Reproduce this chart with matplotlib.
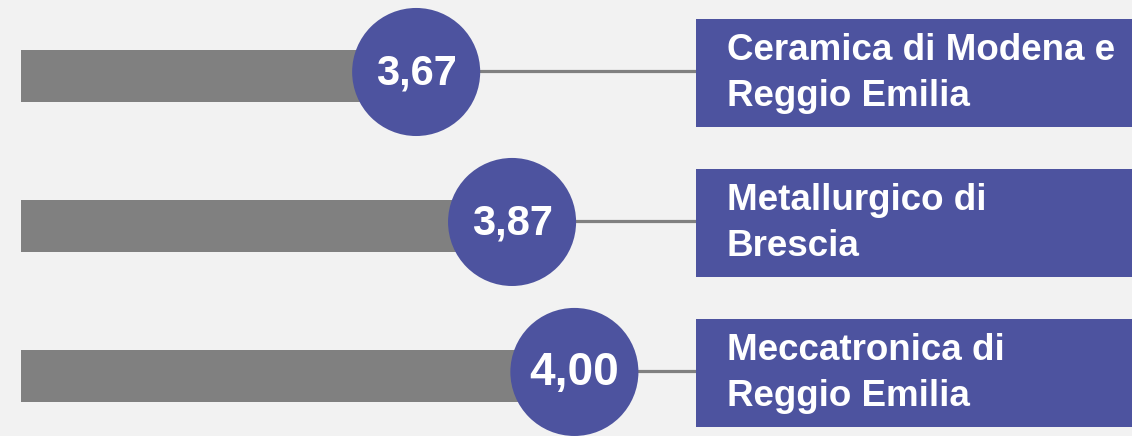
import matplotlib
matplotlib.use("Agg")
import matplotlib.pyplot as plt
from matplotlib.patches import Rectangle

# Data
districts = ["Ceramica di Modena e\nReggio Emilia",
             "Metallurgico di\nBrescia",
             "Meccatronica di\nReggio Emilia"]
scores = [3.67, 3.87, 4.00]
score_labels = ["3,67", "3,87", "4,00"]

# Style
BG = "#f2f2f2"
GREY = "#808080"
PURPLE = "#4d539f"
FONT = ["Liberation Sans", "DejaVu Sans"]

plt.rcParams["font.family"] = FONT

fig = plt.figure(figsize=(11.32, 4.36), dpi=100, facecolor=BG)
ax = fig.add_axes([0, 0, 1, 1], facecolor=BG)

X_MIN, X_MAX = 2.802, 5.163
BAR_START = 2.846
ax.set_xlim(X_MIN, X_MAX)
ax.set_ylim(2.427, -0.48)
ax.axis("off")

box_left_frac = 0.6148
box_left = X_MIN + box_left_frac * (X_MAX - X_MIN)
text_left_frac = 0.642

rows = list(range(len(scores)))
value_sizes = [30, 30, 33]

# grey bars ending under the score bubbles
ax.barh([r + 0.027 for r in rows], [s - BAR_START for s in scores],
        left=BAR_START, height=0.35, color=GREY, zorder=1)

# connector lines from bubble to label box
for r, s in zip(rows, scores):
    ax.plot([s, box_left], [r - 0.005, r - 0.005], color=GREY, lw=2.3,
            solid_capstyle="butt", zorder=1)

# score bubbles
ax.scatter(scores, rows, s=92.2 ** 2, color=PURPLE, edgecolors="none",
           zorder=3)
for r, s, lab, fs in zip(rows, scores, score_labels, value_sizes):
    ax.text(s, r + 0.01, lab, ha="center", va="center", color="white",
            fontsize=fs, fontweight="bold", zorder=4)

# district label boxes
ytr = ax.get_yaxis_transform()
for r, name in zip(rows, districts):
    ax.add_patch(Rectangle((box_left_frac, r - 0.35), 1 - box_left_frac, 0.72,
                           transform=ytr, facecolor=PURPLE, edgecolor="none",
                           zorder=2))
    ax.text(text_left_frac, r + 0.01, name, transform=ytr, ha="left",
            va="center", color="white", fontsize=26.5, fontweight="bold",
            linespacing=1.42, zorder=4)

fig.savefig("out.png", dpi=100, facecolor=BG)
